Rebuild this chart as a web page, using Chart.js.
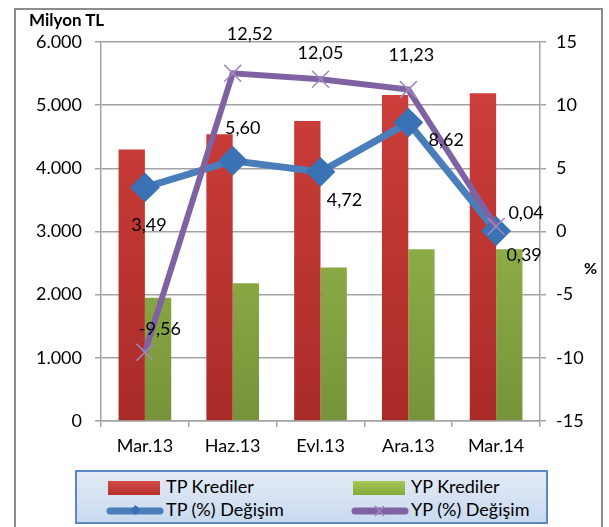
<!DOCTYPE html>
<html>
<head>
<meta charset="utf-8">
<script src="https://cdn.jsdelivr.net/npm/chart.js@4.4.1/dist/chart.umd.min.js"></script>
<style>
  body { margin: 0; background: #fff; font-family: Lato, "Open Sans", sans-serif; }
  #wrap { position: relative; width: 609px; height: 527px; }
  #frame { position: absolute; left: 14px; top: 8px; width: 589px; height: 530px; border: 2px solid #8c8c8c; box-sizing: border-box; }
  #unit { position: absolute; left: 29px; top: 9px; font-size: 17px; font-weight: bold; color: #000; }
  #pct { position: absolute; left: 584px; top: 258px; font-size: 16px; font-weight: bold; color: #000; }
  #legend { position: absolute; left: 75px; top: 470px; width: 473px; height: 54px; box-sizing: border-box;
            border: 2px solid #5b87c5; background: linear-gradient(#e3ebf6, #c9daf0); }
  .item { position: absolute; font-size: 18px; line-height: 20px; color: #000; white-space: nowrap; }
  .sw { display: inline-block; vertical-align: middle; margin-right: 6px; }
  canvas { position: absolute; left: 0; top: 0; }
</style>
</head>
<body>
<div id="wrap">
  <div id="frame"></div>
  <canvas id="chart" width="609" height="527"></canvas>
  <div id="unit">Milyon TL</div>
  <div id="pct">%</div>
  <div id="legend">
    <div class="item" style="left:31px;top:4px"><span class="sw" style="width:52px;height:14px;background:linear-gradient(#d24a44,#b52f2c)"></span>TP Krediler</div>
    <div class="item" style="left:276px;top:4px"><span class="sw" style="width:52px;height:14px;background:linear-gradient(#a7c956,#86a83c)"></span>YP Krediler</div>
    <div class="item" style="left:29px;top:27px"><svg class="sw" width="58" height="14" style="margin-right:2px"><line x1="4" y1="7" x2="54" y2="7" stroke="#4a7ebb" stroke-width="7" stroke-linecap="round"/><rect x="25" y="2" width="7" height="7" fill="#3b6fb0" transform="rotate(45 28.5 7)"/></svg>TP (%) Değişim</div>
    <div class="item" style="left:274px;top:27px"><svg class="sw" width="58" height="14" style="margin-right:2px"><line x1="4" y1="7" x2="54" y2="7" stroke="#7f62a2" stroke-width="7" stroke-linecap="round"/><path d="M24 2 L33 12 M33 2 L24 12" stroke="#9a82bb" stroke-width="1.5"/></svg>YP (%) Değişim</div>
  </div>
</div>
<script>
const categories = ['Mar.13', 'Haz.13', 'Eyl.13', 'Ara.13', 'Mar.14'];
const tpKrediler = [4300, 4540, 4750, 5160, 5190];
const ypKrediler = [1950, 2180, 2430, 2720, 2720];
const tpDegisim = [3.49, 5.60, 4.72, 8.62, 0.04];
const ypDegisim = [-9.56, 12.52, 12.05, 11.23, 0.39];

// where each point label sits relative to its marker (px)
const tpLabelOffsets = [[4, 38], [10, -33], [24, 28], [38, 18], [30, -18]];
const ypLabelOffsets = [[15, -23], [17, -39], [0, -26], [3, -34], [28, 29]];

const FONT = 'Lato, "Open Sans", sans-serif';
const GRID = '#a3a3a3';

function barGradient(top, bottom) {
  return (c) => {
    const area = c.chart.chartArea;
    if (!area) return bottom;
    const g = c.chart.ctx.createLinearGradient(0, area.top, 0, area.bottom);
    g.addColorStop(0, top);
    g.addColorStop(1, bottom);
    return g;
  };
}

const pointLabels = {
  id: 'pointLabels',
  afterDatasetsDraw(chart) {
    const ctx = chart.ctx;
    ctx.save();
    ctx.font = '18px ' + FONT;
    ctx.fillStyle = '#000';
    ctx.textAlign = 'center';
    ctx.textBaseline = 'middle';
    chart.data.datasets.forEach((ds, i) => {
      if (!ds.labelOffsets) return;
      chart.getDatasetMeta(i).data.forEach((pt, j) => {
        const [dx, dy] = ds.labelOffsets[j];
        ctx.fillText(ds.data[j].toFixed(2).replace('.', ','), pt.x + dx, pt.y + dy);
      });
    });
    ctx.restore();
  }
};

new Chart(document.getElementById('chart'), {
  data: {
    labels: categories,
    datasets: [
      {
        type: 'line', label: 'YP (%) Değişim', data: ypDegisim, yAxisID: 'y1', order: 0,
        borderColor: '#7f62a2', borderWidth: 6, pointStyle: 'crossRot', pointRadius: 12,
        pointBorderColor: '#a08ac0', pointBorderWidth: 1.5, labelOffsets: ypLabelOffsets
      },
      {
        type: 'line', label: 'TP (%) Değişim', data: tpDegisim, yAxisID: 'y1', order: 1,
        borderColor: '#4a7ebb', borderWidth: 7, pointStyle: 'rectRot', pointRadius: 10,
        pointBackgroundColor: '#3b72b5', pointBorderColor: '#3b72b5', labelOffsets: tpLabelOffsets
      },
      {
        type: 'bar', label: 'TP Krediler', data: tpKrediler, yAxisID: 'y', order: 2,
        backgroundColor: barGradient('#d2413d', '#a92b28'),
        categoryPercentage: 0.6, barPercentage: 1.0
      },
      {
        type: 'bar', label: 'YP Krediler', data: ypKrediler, yAxisID: 'y', order: 3,
        backgroundColor: barGradient('#a6c955', '#77933a'),
        categoryPercentage: 0.6, barPercentage: 1.0
      }
    ]
  },
  options: {
    responsive: false,
    devicePixelRatio: 1,
    animation: false,
    layout: { padding: { left: 0, right: 0, top: 42, bottom: 75 } },
    plugins: { legend: { display: false }, tooltip: { enabled: false } },
    scales: {
      x: {
        afterFit: (s) => { s.height = 31; },
        grid: { drawOnChartArea: false, drawTicks: true, tickLength: 6, color: GRID, lineWidth: 1.5 },
        border: { color: GRID, width: 1.5 },
        ticks: { color: '#000', font: { size: 18, family: FONT }, padding: 8 }
      },
      y: {
        position: 'left', min: 0, max: 6000,
        afterFit: (s) => { s.width = 101; },
        grid: { color: GRID, lineWidth: 1.5, tickLength: 6 },
        border: { color: GRID, width: 1.5 },
        ticks: {
          stepSize: 1000, color: '#000', font: { size: 18, family: FONT }, padding: 13,
          callback: (v) => v.toLocaleString('de-DE')
        }
      },
      y1: {
        position: 'right', min: -15, max: 15,
        afterFit: (s) => { s.width = 69; },
        grid: { drawOnChartArea: false, color: GRID, lineWidth: 1.5, tickLength: 6 },
        border: { color: GRID, width: 1.5 },
        ticks: { stepSize: 5, color: '#000', font: { size: 18, family: FONT }, padding: 10 }
      }
    }
  },
  plugins: [pointLabels]
});
</script>
</body>
</html>
